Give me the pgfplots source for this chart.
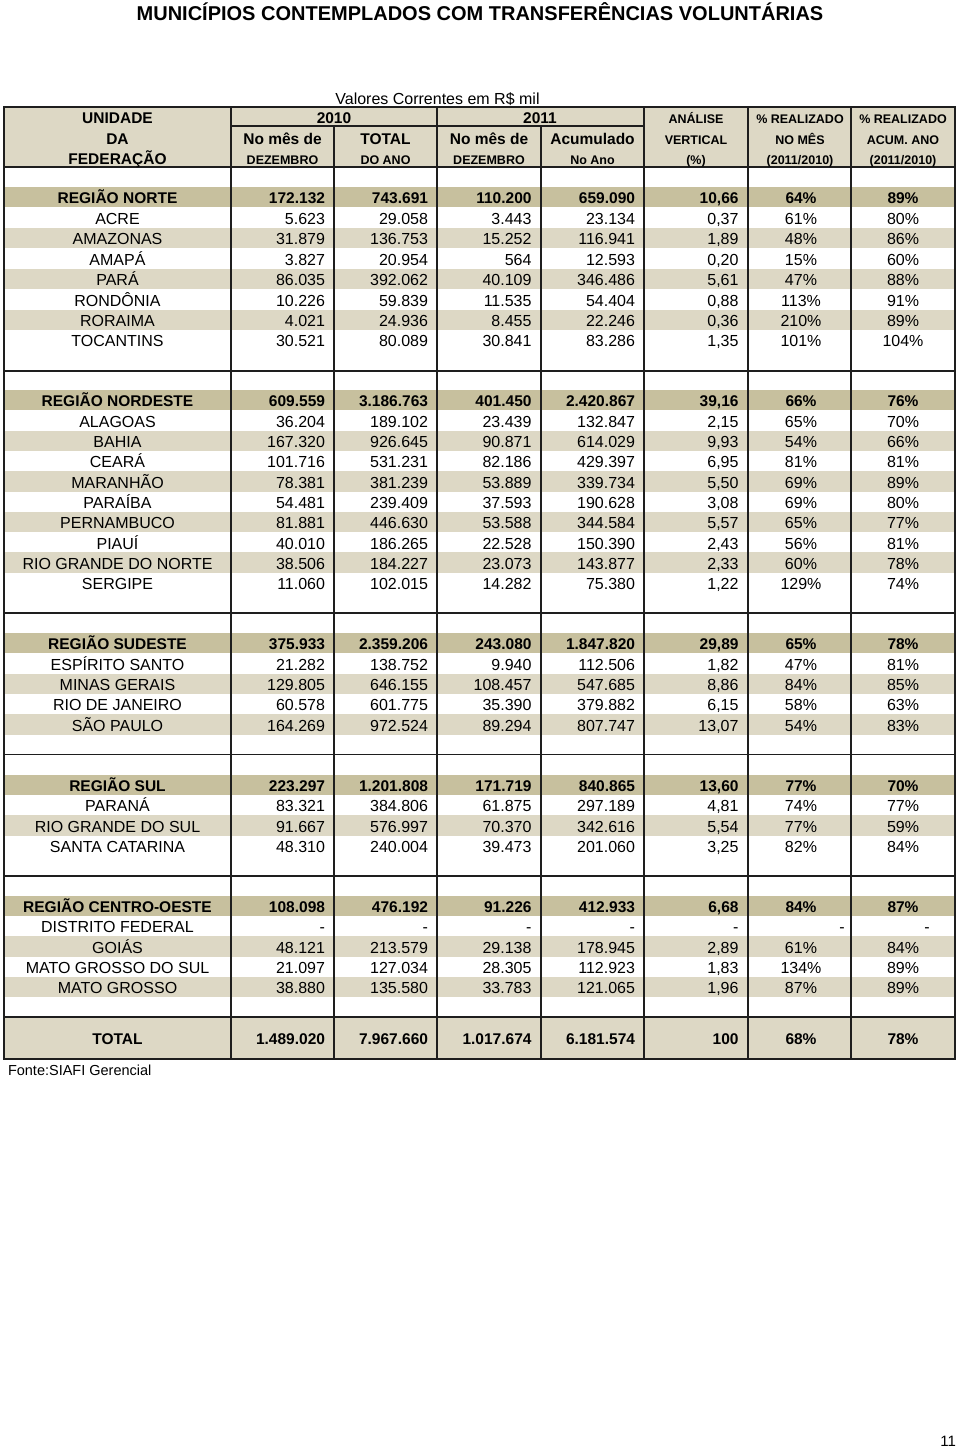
\documentclass[border=0pt]{standalone}
\usepackage{pgfplots}
\pgfplotsset{compat=1.18}
\usepackage{pgfplotstable}
\usepackage{fontspec}
\setmainfont{Liberation Sans}
\definecolor{lightbg}{RGB}{221,216,197}
\definecolor{darkbg}{RGB}{199,192,158}
\definecolor{rulec}{RGB}{30,30,30}
\newcommand\fs[1]{\fontsize{#1bp}{#1bp}\selectfont}

% state rows: y position (px from top); name; values
\pgfplotstableread[col sep=semicolon]{
y;name;c2;c3;c4;c5;c6;c7;c8
217.5;ACRE;5.623;29.058;3.443;23.134;0,37;61\%;80\%
238;AMAZONAS;31.879;136.753;15.252;116.941;1,89;48\%;86\%
258.5;AMAPÁ;3.827;20.954;564;12.593;0,20;15\%;60\%
279;PARÁ;86.035;392.062;40.109;346.486;5,61;47\%;88\%
299.5;RONDÔNIA;10.226;59.839;11.535;54.404;0,88;113\%;91\%
320;RORAIMA;4.021;24.936;8.455;22.246;0,36;210\%;89\%
340;TOCANTINS;30.521;80.089;30.841;83.286;1,35;101\%;104\%
420.5;ALAGOAS;36.204;189.102;23.439;132.847;2,15;65\%;70\%
441;BAHIA;167.320;926.645;90.871;614.029;9,93;54\%;66\%
461;CEARÁ;101.716;531.231;82.186;429.397;6,95;81\%;81\%
481.5;MARANHÃO;78.381;381.239;53.889;339.734;5,50;69\%;89\%
502;PARAÍBA;54.481;239.409;37.593;190.628;3,08;69\%;80\%
522;PERNAMBUCO;81.881;446.630;53.588;344.584;5,57;65\%;77\%
542.5;PIAUÍ;40.010;186.265;22.528;150.390;2,43;56\%;81\%
562.5;RIO GRANDE DO NORTE;38.506;184.227;23.073;143.877;2,33;60\%;78\%
583;SERGIPE;11.060;102.015;14.282;75.380;1,22;129\%;74\%
663.5;ESPÍRITO SANTO;21.282;138.752;9.940;112.506;1,82;47\%;81\%
684;MINAS GERAIS;129.805;646.155;108.457;547.685;8,86;84\%;85\%
704;RIO DE JANEIRO;60.578;601.775;35.390;379.882;6,15;58\%;63\%
724.5;SÃO PAULO;164.269;972.524;89.294;807.747;13,07;54\%;83\%
805;PARANÁ;83.321;384.806;61.875;297.189;4,81;74\%;77\%
825.5;RIO GRANDE DO SUL;91.667;576.997;70.370;342.616;5,54;77\%;59\%
846;SANTA CATARINA;48.310;240.004;39.473;201.060;3,25;82\%;84\%
926;DISTRITO FEDERAL;-;-;-;-;-;{};{}
946.5;GOIÁS;48.121;213.579;29.138;178.945;2,89;61\%;84\%
967;MATO GROSSO DO SUL;21.097;127.034;28.305;112.923;1,83;134\%;89\%
987;MATO GROSSO;38.880;135.580;33.783;121.065;1,96;87\%;89\%
}\states

% region rows and total
\pgfplotstableread[col sep=semicolon]{
y;name;c2;c3;c4;c5;c6;c7;c8
197;REGIÃO NORTE;172.132;743.691;110.200;659.090;10,66;64\%;89\%
400;REGIÃO NORDESTE;609.559;3.186.763;401.450;2.420.867;39,16;66\%;76\%
643;REGIÃO SUDESTE;375.933;2.359.206;243.080;1.847.820;29,89;65\%;78\%
785;REGIÃO SUL;223.297;1.201.808;171.719;840.865;13,60;77\%;70\%
906;REGIÃO CENTRO-OESTE;108.098;476.192;91.226;412.933;6,68;84\%;87\%
1038;TOTAL;1.489.020;7.967.660;1.017.674;6.181.574;100;68\%;78\%
}\regions

% header texts, large bold
\pgfplotstableread[col sep=semicolon]{
x;y;t
117.5;117;UNIDADE
117.5;137.5;DA
117.5;158;FEDERAÇÃO
334;117;2010
540;117;2011
282.5;137.5;No mês de
385.5;137.5;TOTAL
489;137.5;No mês de
592.5;137.5;Acumulado
}\headbig

% header texts, small bold
\pgfplotstableread[col sep=semicolon]{
x;y;t
282.5;158;DEZEMBRO
385.5;158;DO ANO
489;158;DEZEMBRO
592.5;158;No Ano
696;117;ANÁLISE
696;137.5;VERTICAL
696;158;(\%)
800;117;\% REALIZADO
800;137.5;NO MÊS
800;158;(2011/2010)
903;117;\% REALIZADO
903;137.5;ACUM. ANO
903;158;(2011/2010)
}\headsmall

% dashes of Distrito Federal in the two last columns
\pgfplotstableread[col sep=semicolon]{
x;y;t
842;926;-
927;926;-
}\dashes

\pgfplotsset{
  txt/.style n args={2}{draw=none, mark=none, forget plot,
    nodes near coords, point meta=explicit symbolic,
    nodes near coords align={anchor=#1},
    every node near coord/.append style={inner sep=0pt, outer sep=0pt,
      yshift=-4bp, text=black, font=#2}},
}
\newcommand\band[3]{\addplot[fill=#3, draw=none, forget plot] coordinates {(4,#1) (955,#1) (955,#2) (4,#2)} -- cycle;}
\newcommand\hl[3]{\addplot[rulec, line width=1.4bp, forget plot, line cap=rect] coordinates {(#1,#3) (#2,#3)};}
\newcommand\vl[3]{\addplot[rulec, line width=1.4bp, forget plot, line cap=rect] coordinates {(#1,#2) (#1,#3)};}

\begin{document}
\begin{tikzpicture}
\begin{axis}[
  scale only axis, width=960bp, height=1449bp,
  xmin=0, xmax=960, ymin=0, ymax=1449, y dir=reverse,
  hide axis, clip=false]
\path (axis cs:0,0) rectangle (axis cs:960,1449);

% backgrounds
\band{107}{167}{lightbg}
\band{1017}{1059}{lightbg}
\band{187}{207.2}{darkbg}
\band{390}{410.2}{darkbg}
\band{632.8}{653.2}{darkbg}
\band{775}{795.2}{darkbg}
\band{896}{916.2}{darkbg}
% alternate state rows
\band{227.8}{248.2}{lightbg}
\band{268.8}{289.2}{lightbg}
\band{309.8}{330.2}{lightbg}
\band{430.8}{451.2}{lightbg}
\band{471.4}{491.8}{lightbg}
\band{512}{532.4}{lightbg}
\band{552.4}{572.8}{lightbg}
\band{673.8}{694.2}{lightbg}
\band{714.4}{734.8}{lightbg}
\band{815.4}{835.8}{lightbg}
\band{936.4}{956.8}{lightbg}
\band{976.8}{997.2}{lightbg}

% horizontal rules
\hl{4}{955}{107}
\hl{231}{644}{126}
\hl{4}{955}{167}
\hl{4}{955}{371}
\hl{4}{955}{613}
\hl{4}{955}{754.5}
\hl{4}{955}{876}
\hl{4}{955}{1017}
\hl{4}{955}{1059}
% vertical rules
\vl{4}{107}{1059}
\vl{231}{107}{1059}
\vl{334}{126}{1059}
\vl{437}{107}{1059}
\vl{541}{126}{1059}
\vl{644}{107}{1059}
\vl{748}{107}{1059}
\vl{851}{107}{1059}
\vl{955}{107}{1059}

% header
\addplot[txt={mid}{\fs{15.5}\bfseries}] table[x=x, y=y, meta=t] {\headbig};
\addplot[txt={mid}{\fs{12.5}\bfseries}] table[x=x, y=y, meta=t] {\headsmall};

% states
\addplot[txt={mid}{\fs{16}}] table[x expr=117.5, y=y, meta=name] {\states};
\addplot[txt={mid east}{\fs{16}}] table[x expr=325, y=y, meta=c2] {\states};
\addplot[txt={mid east}{\fs{16}}] table[x expr=428, y=y, meta=c3] {\states};
\addplot[txt={mid east}{\fs{16}}] table[x expr=531.5, y=y, meta=c4] {\states};
\addplot[txt={mid east}{\fs{16}}] table[x expr=635, y=y, meta=c5] {\states};
\addplot[txt={mid east}{\fs{16}}] table[x expr=738.5, y=y, meta=c6] {\states};
\addplot[txt={mid}{\fs{16}}] table[x expr=801, y=y, meta=c7] {\states};
\addplot[txt={mid}{\fs{16}}] table[x expr=903, y=y, meta=c8] {\states};
\addplot[txt={mid}{\fs{16}}] table[x=x, y=y, meta=t] {\dashes};

% regions and total
\addplot[txt={mid}{\fs{15.5}\bfseries}] table[x expr=117.5, y=y, meta=name] {\regions};
\addplot[txt={mid east}{\fs{15.5}\bfseries}] table[x expr=325, y=y, meta=c2] {\regions};
\addplot[txt={mid east}{\fs{15.5}\bfseries}] table[x expr=428, y=y, meta=c3] {\regions};
\addplot[txt={mid east}{\fs{15.5}\bfseries}] table[x expr=531.5, y=y, meta=c4] {\regions};
\addplot[txt={mid east}{\fs{15.5}\bfseries}] table[x expr=635, y=y, meta=c5] {\regions};
\addplot[txt={mid east}{\fs{15.5}\bfseries}] table[x expr=738.5, y=y, meta=c6] {\regions};
\addplot[txt={mid}{\fs{15.5}\bfseries}] table[x expr=801, y=y, meta=c7] {\regions};
\addplot[txt={mid}{\fs{15.5}\bfseries}] table[x expr=903, y=y, meta=c8] {\regions};

% title and notes
\addplot[txt={mid}{\fs{20}\bfseries}] coordinates {(480,14) [MUNICÍPIOS CONTEMPLADOS COM TRANSFERÊNCIAS VOLUNTÁRIAS]};
\addplot[txt={mid}{\fs{16}}] coordinates {(437.5,97.5) [Valores Correntes em R\$ mil]};
\addplot[txt={mid west}{\fs{14.5}}] coordinates {(8,1069) [Fonte:SIAFI Gerencial]};
\addplot[txt={mid east}{\fs{15}}] coordinates {(956,1440) [11]};
\end{axis}
\end{tikzpicture}
\end{document}
